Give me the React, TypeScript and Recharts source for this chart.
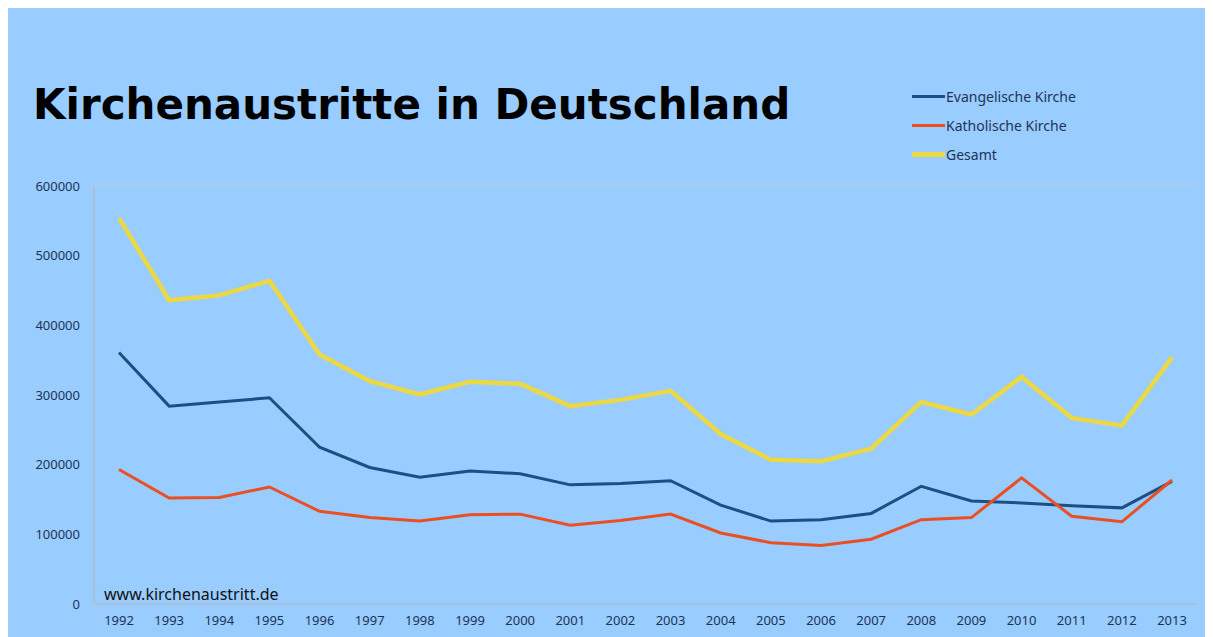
import { LineChart, Line, XAxis, YAxis, CartesianGrid } from "recharts";

const years = [
  "1992", "1993", "1994", "1995", "1996", "1997", "1998", "1999", "2000", "2001", "2002",
  "2003", "2004", "2005", "2006", "2007", "2008", "2009", "2010", "2011", "2012", "2013",
];

const evangelisch = [
  361000, 284000, 290000, 296000, 225000, 196000, 182000, 191000, 187000, 171000, 173000,
  177000, 142000, 119000, 121000, 130000, 169000, 148000, 145000, 141000, 138000, 176000,
];

const katholisch = [
  193000, 152000, 153000, 168000, 133000, 124000, 119000, 128000, 129000, 113000, 120000,
  129000, 102000, 88000, 84000, 93000, 121000, 124000, 181000, 126000, 118000, 178000,
];

const gesamt = [
  554000, 436000, 443000, 464000, 358000, 320000, 301000, 319000, 316000, 284000, 293000,
  306000, 244000, 207000, 205000, 223000, 290000, 272000, 326000, 267000, 256000, 354000,
];

const yTicks = [0, 100000, 200000, 300000, 400000, 500000, 600000];

const series = [
  { key: "evangelisch", name: "Evangelische Kirche", color: "#1f4e84", width: 3 },
  { key: "katholisch", name: "Katholische Kirche", color: "#ea4f24", width: 3 },
  { key: "gesamt", name: "Gesamt", color: "#ecd843", width: 4.5 },
];

const data = years.map((year, i) => ({
  year,
  evangelisch: evangelisch[i],
  katholisch: katholisch[i],
  gesamt: gesamt[i],
}));

const textColor = "#1c3456";
const borderColor = "#a9c0d6";

const LegendBox = () => (
  <div
    style={{
      position: "absolute",
      left: 909,
      top: 74,
      fontFamily: "'Noto Sans', sans-serif",
      fontSize: 14,
      color: textColor,
    }}
  >
    {series.map((s) => (
      <div key={s.key} style={{ display: "flex", alignItems: "center", height: 29 }}>
        <div style={{ width: 33, height: s.width, background: s.color, marginRight: 1 }} />
        <span>{s.name}</span>
      </div>
    ))}
  </div>
);

const App = () => {
  return (
    <div
      style={{
        position: "relative",
        marginLeft: -5,
        width: 1210,
        height: 629,
        background: "#99ccff",
        overflow: "hidden",
      }}
    >
      <div
        style={{
          position: "absolute",
          left: 30,
          top: 72,
          fontFamily: "'DejaVu Sans', sans-serif",
          fontWeight: "bold",
          fontSize: 42,
          color: "#000",
          whiteSpace: "nowrap",
        }}
      >
        Kirchenaustritte in Deutschland
      </div>
      <LegendBox />
      <div
        style={{
          position: "absolute",
          left: 101,
          top: 575,
          fontFamily: "'Noto Sans', sans-serif",
          fontSize: 16,
          color: "#111",
        }}
      >
        www.kirchenaustritt.de
      </div>
      <LineChart
        width={1210}
        height={629}
        data={data}
        margin={{ top: 178, right: 16, bottom: 0, left: 0 }}
      >
        <CartesianGrid vertical={false} stroke="#b2cbe4" strokeWidth={1.5} />
        <XAxis
          dataKey="year"
          height={33}
          padding={{ left: 25, right: 25 }}
          tickLine={false}
          tickSize={0}
          tickMargin={12}
          interval={0}
          axisLine={{ stroke: borderColor, strokeWidth: 2 }}
          tick={{ fill: textColor, fontSize: 13, fontFamily: "'Noto Sans', sans-serif" }}
        />
        <YAxis
          yAxisId="left"
          width={91}
          domain={[0, 600000]}
          ticks={yTicks}
          tickLine={false}
          tickSize={0}
          tickMargin={14}
          axisLine={{ stroke: borderColor, strokeWidth: 2 }}
          tick={{ fill: textColor, fontSize: 13, fontFamily: "'Noto Sans', sans-serif" }}
        />
        <YAxis
          yAxisId="right"
          orientation="right"
          width={0}
          domain={[0, 600000]}
          tick={false}
          tickLine={false}
          axisLine={{ stroke: borderColor, strokeWidth: 2 }}
        />
        {series.map((s) => (
          <Line
            key={s.key}
            yAxisId="left"
            type="linear"
            dataKey={s.key}
            name={s.name}
            stroke={s.color}
            strokeWidth={s.width}
            dot={false}
            isAnimationActive={false}
          />
        ))}
      </LineChart>
    </div>
  );
};

export default App;
